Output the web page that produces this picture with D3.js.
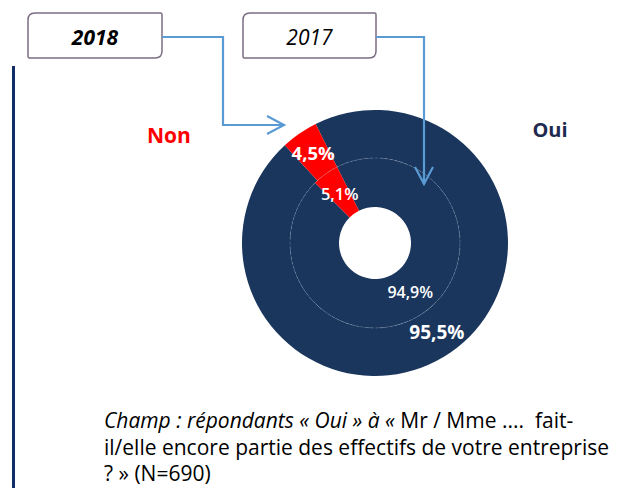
<html>
<head>
<meta charset="utf-8">
<style>
  body { margin: 0; background: #fff; }
  svg text { font-family: "Open Sans", sans-serif; }
  .box { fill: #fff; stroke: #7b6d82; stroke-width: 1.5; }
  .link { fill: none; stroke: #5b9bd5; stroke-width: 2.2; }
</style>
</head>
<body>
<script src="https://cdn.jsdelivr.net/npm/d3@7/dist/d3.min.js"></script>
<script>
var width = 617, height = 490;

// data
var categories = ["Oui", "Non"];
var years = ["2018", "2017"];
var values2018 = [95.5, 4.5];   // anneau extérieur
var values2017 = [94.9, 5.1];   // anneau intérieur
var note1a = "Champ : répondants « Oui » à « ";
var note1b = "Mr / Mme ....  fait-";
var note2 = "il/elle encore partie des effectifs de votre entreprise";
var note3 = "? » (N=690)";

var colors = d3.scaleOrdinal().domain(categories).range(["#1a365d", "#ff0000"]);
var fmt = function(v){ return d3.format(".1f")(v).replace(".", ",") + "%"; };

var svg = d3.select("body").append("svg")
    .attr("width", width)
    .attr("height", height);

// barre verticale à gauche
svg.append("rect")
    .attr("x", 12).attr("y", 66)
    .attr("width", 3).attr("height", 422)
    .attr("fill", "#0f2d66");

var cx = 375, cy = 243;
var start = -26.5 * Math.PI / 180;
var pie = d3.pie().sort(null).startAngle(start).endAngle(start + 2 * Math.PI);

var outerArc = d3.arc().innerRadius(85).outerRadius(133);
var innerArc = d3.arc().innerRadius(36).outerRadius(85);

var g = svg.append("g").attr("transform", "translate(" + cx + "," + cy + ")");

var rings = [
    {values: values2018, arc: outerArc, sizes: [19, 18.5], weight: "bold"},
    {values: values2017, arc: innerArc, sizes: [16, 16.5], weight: "600"}
];

rings.forEach(function(r){
    var arcs = pie(r.values);
    g.selectAll(null).data(arcs).enter().append("path")
        .attr("d", r.arc)
        .attr("fill", function(d, i){ return colors(categories[i]); });
});

// cercle fin de séparation
g.append("circle")
    .attr("r", 85)
    .attr("fill", "none")
    .attr("stroke", "#8fa0b8")
    .attr("stroke-width", 0.6)
    .attr("stroke-dasharray", "3,2")
    .attr("opacity", 0.6);

rings.forEach(function(r){
    var arcs = pie(r.values);
    g.selectAll(null).data(arcs).enter().append("text")
        .attr("transform", function(d){ var c = r.arc.centroid(d); return "translate(" + c[0] + "," + c[1] + ")"; })
        .attr("text-anchor", "middle")
        .attr("dy", "0.35em")
        .attr("fill", "#fff")
        .attr("font-weight", r.weight)
        .attr("font-size", function(d, i){ return r.sizes[i]; })
        .text(function(d){ return fmt(d.data); });
});

// étiquettes catégories
svg.append("text").attr("x", 169).attr("y", 143).attr("text-anchor", "middle")
    .attr("font-size", 21).attr("font-weight", "bold").attr("fill", "#ff0000").text(categories[1]);
svg.append("text").attr("x", 550).attr("y", 137).attr("text-anchor", "middle")
    .attr("font-size", 20).attr("font-weight", "bold").attr("fill", "#1e2a4e").text(categories[0]);

// boîtes années
function boxPath(x, y, w, h){
    var r = 7, s = 1.5;
    return "M" + (x + r) + "," + y + "H" + (x + w - s) + "Q" + (x + w) + "," + y + " " + (x + w) + "," + (y + s) +
        "V" + (y + h - r) + "Q" + (x + w) + "," + (y + h) + " " + (x + w - r) + "," + (y + h) +
        "H" + (x + s) + "Q" + x + "," + (y + h) + " " + x + "," + (y + h - s) +
        "V" + (y + r) + "Q" + x + "," + y + " " + (x + r) + "," + y + "Z";
}
var boxes = [
    {x: 28, w: 134, bold: true, line: [[162, 37], [223, 37], [223, 125], [284, 125]], dir: "right"},
    {x: 243, w: 133, bold: false, line: [[376, 37], [424, 37], [424, 184]], dir: "down"}
];
boxes.forEach(function(b, i){
    svg.append("path").attr("class", "box").attr("d", boxPath(b.x, 13, b.w, 45));
    svg.append("text")
        .attr("x", b.x + b.w / 2).attr("y", 45)
        .attr("text-anchor", "middle")
        .attr("font-size", 21)
        .attr("font-style", "italic")
        .attr("font-weight", b.bold ? "bold" : "normal")
        .attr("fill", "#000")
        .text(years[i]);
    svg.append("path").attr("class", "link").attr("d", d3.line()(b.line));
    var t = b.line[b.line.length - 1], head;
    if (b.dir == "right") head = [[t[0] - 17, t[1] - 9], t, [t[0] - 17, t[1] + 9]];
    else head = [[t[0] - 9, t[1] - 17], t, [t[0] + 9, t[1] - 17]];
    svg.append("path").attr("class", "link").attr("d", d3.line()(head));
});

// note
var note = svg.append("text").attr("font-size", 21).attr("fill", "#000")
    .style("white-space", "pre");
var l1 = note.append("tspan").attr("x", 104).attr("y", 428);
l1.append("tspan").attr("font-style", "italic").text(note1a);
l1.append("tspan").text(note1b);
note.append("tspan").attr("x", 104).attr("y", 455).text(note2);
note.append("tspan").attr("x", 104).attr("y", 481).text(note3);
</script>
</body>
</html>
